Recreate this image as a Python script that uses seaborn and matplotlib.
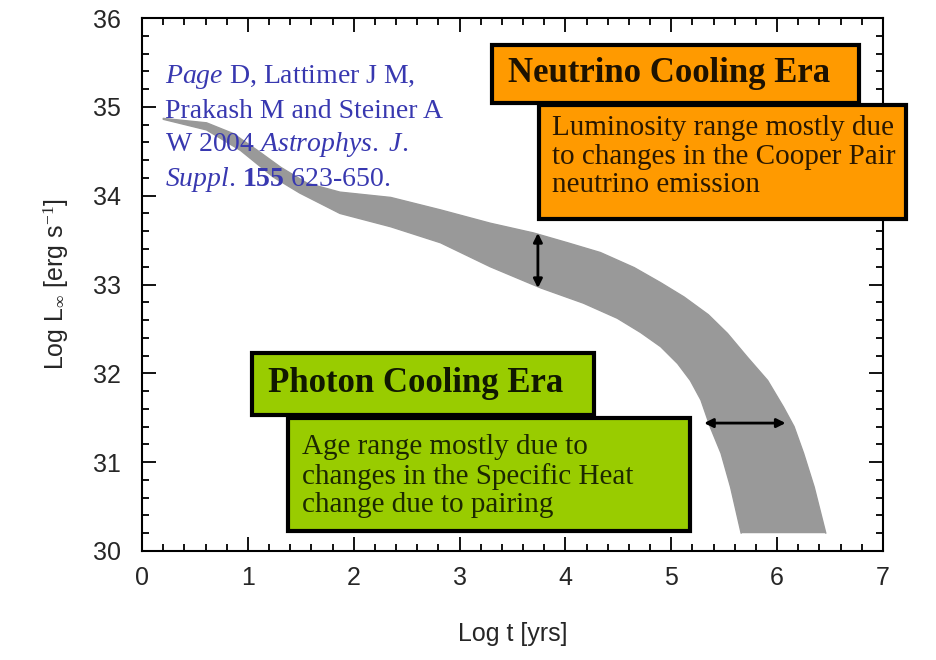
import numpy as np
import pandas as pd
import matplotlib
matplotlib.use("Agg")
import matplotlib.pyplot as plt
from matplotlib.patches import Rectangle
import seaborn as sns

# Cooling band of neutron stars: upper and lower envelopes (log t [yr], log L [erg/s])
upper_log_t = [0.20, 0.61, 0.86, 1.09, 1.31, 1.56, 1.87, 2.35, 2.82, 3.29, 3.70, 4.02,
               4.33, 4.65, 4.90, 5.12, 5.35, 5.53, 5.72, 5.91, 6.06, 6.16, 6.25, 6.35, 6.46]
upper_log_L = [34.87, 34.82, 34.70, 34.51, 34.32, 34.14, 34.04, 33.98, 33.84, 33.69, 33.58, 33.47,
               33.36, 33.19, 33.02, 32.86, 32.66, 32.45, 32.18, 31.92, 31.62, 31.40, 31.10, 30.72,
               30.20]
lower_log_t = [0.20, 0.61, 0.93, 1.24, 1.49, 1.87, 2.35, 2.82, 3.29, 3.77, 4.17, 4.49,
               4.71, 4.90, 5.06, 5.18, 5.28, 5.37, 5.47, 5.56, 5.66]
lower_log_L = [34.86, 34.74, 34.51, 34.21, 34.03, 33.80, 33.65, 33.47, 33.20, 32.96, 32.79,
               32.62, 32.46, 32.30, 32.11, 31.92, 31.70, 31.39, 31.10, 30.72, 30.20]

# Range indicators
lum_range_t = 3.74
lum_range_L = [33.58, 32.96]
age_range_t = [5.31, 6.08]
age_range_L = 31.44

x_ticks = [0, 1, 2, 3, 4, 5, 6, 7]
y_ticks = [30, 31, 32, 33, 34, 35, 36]

band_color = "#999999"

sns.set_theme(style="ticks")
plt.rcParams["font.family"] = ["Liberation Sans", "DejaVu Sans"]
plt.rcParams["mathtext.fontset"] = "custom"
plt.rcParams["mathtext.rm"] = "Liberation Serif"
plt.rcParams["mathtext.it"] = "Liberation Serif:italic"
plt.rcParams["mathtext.bf"] = "Liberation Serif:bold"

fig = plt.figure(figsize=(9.36, 6.60), dpi=100)
ax = fig.add_axes([142 / 936, 1 - 551 / 660, (883 - 142) / 936, (551 - 18) / 660])

edges = pd.concat([
    pd.DataFrame({"log_t": upper_log_t, "log_L": upper_log_L, "edge": "upper"}),
    pd.DataFrame({"log_t": lower_log_t, "log_L": lower_log_L, "edge": "lower"}),
])
sns.lineplot(data=edges, x="log_t", y="log_L", units="edge", estimator=None,
             color=band_color, lw=1, legend=False, ax=ax, zorder=1)
ax.fill(np.r_[upper_log_t, lower_log_t[::-1]], np.r_[upper_log_L, lower_log_L[::-1]],
        color=band_color, lw=0, zorder=1)

# Double-headed range arrows
arrow_kw = dict(arrowstyle="<|-|>", color="black", lw=2, mutation_scale=13,
                shrinkA=0, shrinkB=0)
ax.annotate("", xy=(lum_range_t, lum_range_L[0]), xytext=(lum_range_t, lum_range_L[1]),
            arrowprops=arrow_kw, zorder=3)
ax.annotate("", xy=(age_range_t[0], age_range_L), xytext=(age_range_t[1], age_range_L),
            arrowprops=arrow_kw, zorder=3)

ax.set_xlim(0, 7)
ax.set_ylim(30, 36)
ax.set_xticks(x_ticks)
ax.set_yticks(y_ticks)
ax.set_xticks(np.arange(0, 7.01, 0.2), minor=True)
ax.set_yticks(np.arange(30, 36.01, 0.2), minor=True)
ax.tick_params(which="both", direction="in", top=True, right=True, color="black", width=1.3)
ax.tick_params(which="major", length=10, labelsize=18)
ax.tick_params(which="minor", length=5)
ax.tick_params(axis="x", which="major", pad=11)
ax.tick_params(axis="y", which="major", pad=15)
for s in ax.spines.values():
    s.set_linewidth(1.5)
    s.set_color("black")

ax.set_xlabel("Log t [yrs]", fontsize=18, labelpad=23)
ax.set_ylabel(r"Log L$_\infty$ [erg s$^{-1}$]", fontsize=18, labelpad=16)

serif = ["Liberation Serif", "DejaVu Serif"]

# Reference
cite_color = "#3838b0"
cite_lines = [
    r"$\mathit{Page}$ D, Lattimer J M,",
    "Prakash M and Steiner A",
    r"W $\mathit{2004\ Astrophys.\ J.}$",
    r"$\mathit{Suppl}$. $\mathbf{155}$ 623-650.",
]
cite_y = [35.34, 34.95, 34.58, 34.18]
for line, yy in zip(cite_lines, cite_y):
    ax.text(0.22, yy, line, fontsize=20, family=serif, color=cite_color,
            va="center", ha="left", zorder=4)

def box(x0, y0, x1, y1, color):
    ax.add_patch(Rectangle((x0, y0), x1 - x0, y1 - y0, facecolor=color, edgecolor="black",
                           lw=3, clip_on=False, zorder=5))

orange = "#ff9a00"
green = "#99cc00"

# Neutrino cooling era
box(3.75, 33.74, 7.22, 35.02, orange)
box(3.31, 35.04, 6.77, 35.70, orange)
ax.text(3.46, 35.37, "Neutrino Cooling Era", fontsize=25, fontweight="bold", family=serif,
        color="#1e1200", va="center", ha="left", zorder=6)
ax.text(3.87, 34.44, "Luminosity range mostly due\nto changes in the Cooper Pair\nneutrino emission",
        fontsize=21, family=serif, color="#2a1800", va="center", ha="left",
        linespacing=1.12, zorder=6, clip_on=False)

# Photon cooling era
box(1.38, 30.23, 5.18, 31.50, green)
box(1.04, 31.53, 4.27, 32.23, green)
ax.text(1.19, 31.88, "Photon Cooling Era", fontsize=25, fontweight="bold", family=serif,
        color="#101800", va="center", ha="left", zorder=6)
ax.text(1.51, 30.84, "Age range mostly due to\nchanges in the Specific Heat\nchange due to pairing",
        fontsize=21, family=serif, color="#1c2800", va="center", ha="left",
        linespacing=1.12, zorder=6)

fig.savefig("out.png", dpi=100)
